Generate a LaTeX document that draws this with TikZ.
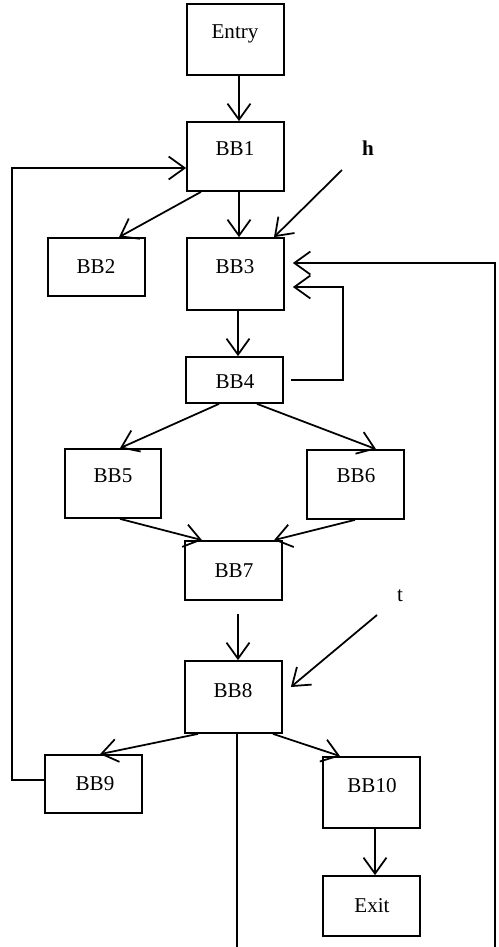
\documentclass[tikz,border=0pt]{standalone}
\usepackage{fontspec}
\setmainfont{Liberation Serif}
\usetikzlibrary{arrows.meta,calc}
\begin{document}
\begin{tikzpicture}[x=0.02cm,y=-0.02cm,
  blk/.style={draw,line width=1pt,inner sep=0pt,minimum width=1.94cm},
  lbl/.style={anchor=base,inner sep=0pt,font=\fontsize{12}{14}\selectfont},
  edge/.style={line width=1pt,-{Straight Barb[length=3.2mm,width=4.6mm,line width=1pt]}},
  plain/.style={line width=1pt}]
\clip (0,0) rectangle (499,947);
\fill[white] (0,0) rectangle (499,947);

% basic blocks
\node[blk,minimum height=1.42cm] (entry) at (235.5,39.5) {};
\node[blk,minimum height=1.38cm] (bb1) at (235.5,156.5) {};
\node[blk,minimum height=1.16cm] (bb2) at (96.5,267) {};
\node[blk,minimum height=1.44cm] (bb3) at (235.5,274) {};
\node[blk,minimum height=0.92cm] (bb4) at (234.5,380) {};
\node[blk,minimum height=1.38cm,minimum width=1.92cm] (bb5) at (113,483.5) {};
\node[blk,minimum height=1.38cm] (bb6) at (355.5,484.5) {};
\node[blk,minimum height=1.18cm] (bb7) at (233.5,570.5) {};
\node[blk,minimum height=1.44cm] (bb8) at (233.5,697) {};
\node[blk,minimum height=1.16cm] (bb9) at (93.5,784) {};
\node[blk,minimum height=1.42cm] (bb10) at (371.5,792.5) {};
\node[blk,minimum height=1.20cm] (exit) at (371.5,906) {};

% block names
\node[lbl] (entryt) at (235,38) {Entry};
\node[lbl] (bb1t) at (235,155) {BB1};
\node[lbl] (bb2t) at (96,273) {BB2};
\node[lbl] (bb3t) at (235,273) {BB3};
\node[lbl] (bb4t) at (235,388) {BB4};
\node[lbl] (bb5t) at (113,482) {BB5};
\node[lbl] (bb6t) at (356,482) {BB6};
\node[lbl] (bb7t) at (234,577) {BB7};
\node[lbl] (bb8t) at (233,697) {BB8};
\node[lbl] (bb9t) at (95,790) {BB9};
\node[lbl] (bb10t) at (372,792) {BB10};
\node[lbl] (exitt) at (372,912) {Exit};

% header and tail markers
\node[lbl] (h) at (368,155) {\textbf{h}};
\node[lbl] (t) at (400,601) {t};
\coordinate (hs) at (342,170);
\coordinate (ts) at (377,615);

% forward edges
\draw[edge] ($(entry.south)+(3.5,0)$) -- ($(bb1.north)+(3.5,0)$);
\draw[edge] ($(bb1.south)+(-34.5,0)$) -- ($(bb2.north)+(22.5,0)$);
\draw[edge] ($(bb1.south)+(3.5,0)$) -- ($(bb3.north)+(3.5,0)$);
\draw[edge] (hs) -- ($(bb3.north)+(38.5,0)$);
\draw[edge] ($(bb3.south)+(2.5,0)$) -- ($(bb4.north)+(3.5,0)$);
\draw[edge] ($(bb4.south)+(-15.5,0)$) -- ($(bb5.north)+(7,0)$);
\draw[edge] ($(bb4.south)+(22.5,0)$) -- ($(bb6.north)+(20.5,0)$);
\draw[edge] ($(bb5.south)+(7,0)$) -- ($(bb7.north)+(-31.5,0)$);
\draw[edge] ($(bb6.south)+(-0.5,0)$) -- ($(bb7.north)+(40.5,0)$);
\draw[edge] ($(bb7.south)+(4.5,13)$) -- ($(bb8.north)+(4.5,0)$);
\draw[edge] (ts) -- ($(bb8.east)+(8,-10)$);
\draw[edge] ($(bb8.south)+(-35.5,0)$) -- ($(bb9.north)+(6.5,0)$);
\draw[edge] ($(bb8.south)+(39.5,0)$) -- ($(bb10.north)+(-31.5,0)$);
\draw[edge] ($(bb10.south)+(3.5,0)$) -- ($(exit.north)+(3.5,0)$);

% back edges
\draw[edge] ($(bb4.east)+(7,0)$) -- ++(52,0) |- ($(bb3.east)+(8,13)$);
\draw[edge] ($(bb8.south)+(3.5,0)$) -- ++(0,230) -- ++(258,0) |- ($(bb3.east)+(8,-11)$);
\draw[edge] ($(bb9.west)+(0,-4)$) -- ++(-32,0) |- ($(bb1.west)+(0,11.5)$);
\end{tikzpicture}
\end{document}
